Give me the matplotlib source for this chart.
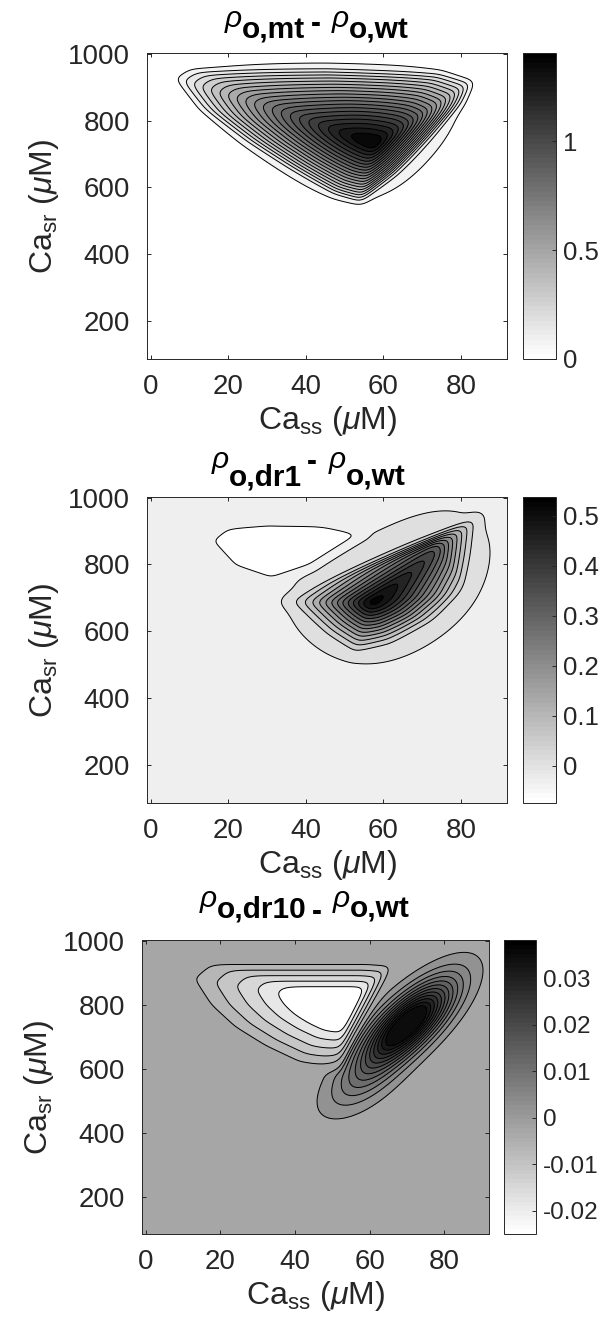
import numpy as np
import matplotlib
matplotlib.use("Agg")
import matplotlib.pyplot as plt
from matplotlib import colors as mcolors
from matplotlib import cm
from matplotlib.ticker import FuncFormatter

plt.rcParams['font.family'] = ['Liberation Sans', 'DejaVu Sans']
plt.rcParams['mathtext.fontset'] = 'custom'
plt.rcParams['mathtext.rm'] = 'Liberation Sans'
plt.rcParams['mathtext.it'] = 'Liberation Sans:italic'
plt.rcParams['mathtext.bf'] = 'Liberation Sans:bold'
plt.rcParams['axes.unicode_minus'] = False

# axes ranges / ticks
ca_ss_lim = [-0.9, 92.0]
ca_sr_lim = [85, 1002]
x_ticks = [0, 20, 40, 60, 80]
y_ticks = [200, 400, 600, 800, 1000]

# panel 1 : rho_mt - rho_wt  (lobe outline, peak position(s), peak value)
mt_out_x = [5, 9, 45, 75, 84, 81, 73, 63, 54, 47, 35, 24, 12]
mt_out_y = [932, 958, 960, 948, 922, 860, 760, 640, 552, 578, 660, 740, 840]
mt_modes = [[58, 730]]
mt_weights = [1.0]
mt_gamma = 0.85
mt_peak = 1.40
mt_tail = 0.5
mt_clim = [0.0, 1.405]
mt_levels = [0.067, 0.134, 0.201, 0.268, 0.335, 0.402, 0.469, 0.536, 0.603, 0.670,
             0.737, 0.804, 0.871, 0.938, 1.005, 1.072, 1.139, 1.206, 1.273, 1.340]
mt_cticks = [0, 0.5, 1]

# panel 2 : rho_dr1 - rho_wt  (positive lobe + negative lobe)
dr1_pos_x = [33, 44, 52, 62, 74, 82, 84, 86]
dr1_pos_y = [690, 580, 518, 548, 625, 718, 830, 958]
dr1_pos_modes = [[57, 685], [73, 860]]
dr1_pos_weights = [1.0, 0.55]
dr1_pos_gamma = 1.4
dr1_pos_peak = 0.537
dr1_pos_tail = 0.3
dr1_neg_x = [14.5, 19, 30, 45, 56, 42, 31, 21]
dr1_neg_y = [872, 912, 922, 919, 894, 790, 750, 790]
dr1_neg_modes = [[32, 870]]
dr1_neg_weights = [1.0]
dr1_neg_gamma = 0.3
dr1_neg_peak = -0.074
dr1_clim = [-0.074, 0.537]
dr1_levels = [-0.034, 0.006, 0.046, 0.086, 0.126, 0.166, 0.206, 0.246,
              0.286, 0.326, 0.366, 0.406, 0.446, 0.486, 0.526]
dr1_cticks = [0, 0.1, 0.2, 0.3, 0.4, 0.5]

# panel 3 : rho_dr10 - rho_wt  (negative lobe + positive ridge with a lower foot)
dr10_neg_x = [9, 14, 60, 67, 52, 40, 30, 21, 14]
dr10_neg_y = [890, 938, 938, 932, 580, 605, 660, 725, 800]
dr10_neg_modes = [[53, 800]]
dr10_neg_weights = [1.0]
dr10_neg_gamma = 1.0
dr10_neg_peak = -0.030
dr10_pos_centers = [[70, 738], [58, 560]]
dr10_pos_sds = [[8.2, 91], [7.0, 70]]
dr10_pos_corrs = [0.75, 0.6]
dr10_pos_peaks = [0.043, 0.007]
dr10_clim = [-0.025, 0.0382]
dr10_levels = [-0.019, -0.015, -0.011, -0.007, -0.003, 0.002, 0.005, 0.008,
               0.011, 0.014, 0.017, 0.020, 0.023, 0.026, 0.029, 0.032, 0.035]
dr10_cticks = [-0.02, -0.01, 0, 0.01, 0.02, 0.03]

xs = np.linspace(ca_ss_lim[0], ca_ss_lim[1], 400)
ys = np.linspace(ca_sr_lim[0], ca_sr_lim[1], 400)
X, Y = np.meshgrid(xs, ys)


def smooth(Z, sx, sy):
    def kern(s, d):
        n = int(3 * s / d)
        t = np.arange(-n, n + 1) * d
        k = np.exp(-0.5 * (t / s) ** 2)
        return k / k.sum()
    kx = kern(sx, xs[1] - xs[0])
    ky = kern(sy, ys[1] - ys[0])
    Z = np.apply_along_axis(lambda r: np.convolve(r, kx, mode='same'), 1, Z)
    Z = np.apply_along_axis(lambda c: np.convolve(c, ky, mode='same'), 0, Z)
    return Z


def add_tail(f, tail, sd):
    f = f / f.max()
    if tail > 0:
        f = f + tail * smooth(f, *sd)
    return f / f.max()


def pyramid_lobe(px, py, modes, weights, gamma, peak, tail=0.0, tail_sd=(6.0, 60.0)):
    # piecewise-linear hill: 0 on the outline, 1 at each apex, then rounded a bit
    px = np.asarray(px, float)
    py = np.asarray(py, float)
    cx, cy = px.mean(), py.mean()
    n = len(px)
    f = np.zeros_like(X)
    for (mx, my), w in zip(modes, weights):
        r = np.full(X.shape, np.inf)
        for i in range(n):
            x0, y0 = px[i], py[i]
            x1, y1 = px[(i + 1) % n], py[(i + 1) % n]
            nx, ny = -(y1 - y0), (x1 - x0)
            if nx * (cx - x0) + ny * (cy - y0) < 0:
                nx, ny = -nx, -ny
            d = nx * (X - x0) + ny * (Y - y0)
            dm = nx * (mx - x0) + ny * (my - y0)
            r = np.minimum(r, d / dm)
        f = f + w * np.clip(r, 0, None) ** gamma
    f = smooth(f, 1.0, 10.0)
    return peak * add_tail(f, tail, tail_sd)


def gauss_lobes(centers, sds, corrs, peaks):
    f = np.zeros_like(X)
    for c, sd, rr, pk in zip(centers, sds, corrs, peaks):
        u = (X - c[0]) / sd[0]
        v = (Y - c[1]) / sd[1]
        f = f + pk * np.exp(-0.5 * (u ** 2 - 2 * rr * u * v + v ** 2) / (1 - rr ** 2))
    return f


Z_mt = pyramid_lobe(mt_out_x, mt_out_y, mt_modes, mt_weights, mt_gamma, mt_peak,
                    mt_tail, (7.0, 70.0))
Z_dr1 = (pyramid_lobe(dr1_pos_x, dr1_pos_y, dr1_pos_modes, dr1_pos_weights, dr1_pos_gamma,
                      dr1_pos_peak, dr1_pos_tail)
         + pyramid_lobe(dr1_neg_x, dr1_neg_y, dr1_neg_modes, dr1_neg_weights, dr1_neg_gamma,
                        dr1_neg_peak))
Z_dr10 = (pyramid_lobe(dr10_neg_x, dr10_neg_y, dr10_neg_modes, dr10_neg_weights, dr10_neg_gamma,
                       dr10_neg_peak)
          + gauss_lobes(dr10_pos_centers, dr10_pos_sds, dr10_pos_corrs, dr10_pos_peaks))

panels = [
    (Z_mt, mt_clim, mt_levels, mt_cticks, 'mt'),
    (Z_dr1, dr1_clim, dr1_levels, dr1_cticks, 'dr1'),
    (Z_dr10, dr10_clim, dr10_levels, dr10_cticks, 'dr10'),
]

# layout in pixels: (left, top, right, bottom)
W, H = 603, 1324
ax_boxes = [(147.3, 53.3, 507.3, 359), (147.3, 497, 507.3, 803), (142.3, 940, 489.3, 1234)]
cb_boxes = [(523.3, 53.3, 555.7, 359), (523.3, 497, 555.7, 803), (504.3, 940, 535.7, 1234)]
# title: left edge (axes fraction), subscript baseline above axes (pt), rho raise, dash raise (pt)
title_pos = [(0.215, 10.8, 7.8, 4.7), (0.178, 8.6, 12.6, 11.2), (0.165, 16.3, 7.8, -2.2)]
cb_font = [18.5, 18.5, 17.5]


def frac(box):
    l, t, r, b = box
    return [l / W, 1 - b / H, (r - l) / W, (b - t) / H]


def draw_title(ax, tag, pos):
    x0, base, rho_up, dash_up = pos
    it = dict(fontsize=21.5, style='italic', color='black')
    bf = dict(fontsize=21.5, weight='bold', color='black')
    pieces = [('\u03c1', it, 0, rho_up), ('o,' + tag, bf, 0, 0), ('-', bf, 4, dash_up),
              ('\u03c1', it, 8, rho_up), ('o,wt', bf, 0, 0)]
    prev = None
    for txt, kw, dx, dy in pieces:
        if prev is None:
            prev = ax.annotate(txt, xy=(x0, 1), xycoords='axes fraction',
                               xytext=(0, base + dy), textcoords='offset points',
                               ha='left', va='baseline', annotation_clip=False, **kw)
        else:
            prev = ax.annotate(txt, xy=(1, 1), xycoords=(prev, 'axes fraction'),
                               xytext=(dx, base + dy), textcoords='offset points',
                               ha='left', va='baseline', annotation_clip=False, **kw)


fig = plt.figure(figsize=(W / 100, H / 100), dpi=100)
cmap = plt.get_cmap('gray_r', 64)
edge = '#262626'
fmt = FuncFormatter(lambda v, p: '%g' % round(v, 4))

for (Z, clim, levels, cticks, tag), axb, cbb, tpos, cbf in zip(panels, ax_boxes, cb_boxes,
                                                                title_pos, cb_font):
    ax = fig.add_axes(frac(axb))
    norm = mcolors.Normalize(vmin=clim[0], vmax=clim[1])
    full = [-10.0] + list(levels) + [10.0]
    band_cols = [cmap(norm(clim[0]))] + [cmap(norm(lv)) for lv in levels]
    ax.contourf(X, Y, Z, levels=full, colors=band_cols)
    ax.contour(X, Y, Z, levels=levels, colors='k', linewidths=0.7, linestyles='solid')
    ax.set_xlim(ca_ss_lim)
    ax.set_ylim(ca_sr_lim)
    ax.set_xticks(x_ticks)
    ax.set_yticks(y_ticks)
    ax.tick_params(direction='in', length=3, width=0.7, color=edge, labelcolor=edge,
                   labelsize=20, top=True, right=True)
    ax.tick_params(axis='x', pad=11)
    ax.tick_params(axis='y', pad=12.5)
    for s in ax.spines.values():
        s.set_color(edge)
        s.set_linewidth(0.7)
    ax.set_xlabel(r'Ca$_{\rm ss}$ ($\mu$M)', fontsize=23, color=edge, labelpad=3)
    ax.set_ylabel(r'Ca$_{\rm sr}$ ($\mu$M)', fontsize=23, color=edge, labelpad=5)
    draw_title(ax, tag, tpos)

    cax = fig.add_axes(frac(cbb))
    sm = cm.ScalarMappable(norm=norm, cmap=cmap)
    cb = fig.colorbar(sm, cax=cax)
    cb.set_ticks(cticks)
    cb.ax.yaxis.set_major_formatter(fmt)
    cb.ax.tick_params(direction='in', length=3, width=0.7, color=edge, labelcolor=edge,
                      labelsize=cbf, pad=5.5)
    cb.outline.set_edgecolor(edge)
    cb.outline.set_linewidth(0.7)

fig.savefig('out.png', dpi=100)
